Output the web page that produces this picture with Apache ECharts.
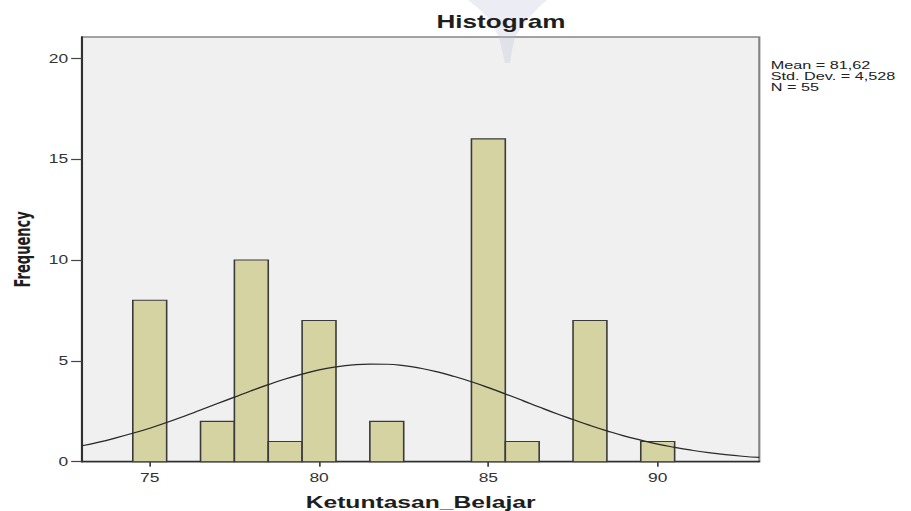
<!DOCTYPE html>
<html>
<head>
<meta charset="utf-8">
<script src="https://cdn.jsdelivr.net/npm/echarts@6/dist/echarts.min.js"></script>
<style>
  html, body { margin: 0; padding: 0; background: #fff; overflow: hidden; }
  /* the source picture is stretched sideways, so the chart is drawn narrow and widened */
  #main { width: 628px; height: 511px; transform: scaleX(1.4506); transform-origin: 0 0; }
</style>
</head>
<body>
<div id="main"></div>
<script>
// histogram bins (width 1, centred on the value)
var binCenters = [75, 77, 78, 79, 80, 82, 85, 86, 88, 90];
var frequencies = [8, 2, 10, 1, 7, 2, 16, 1, 7, 1];

// normal curve
var curveX = [73, 73.5, 74, 74.5, 75, 75.5, 76, 76.5, 77, 77.5, 78, 78.5, 79, 79.5, 80, 80.5,
  81, 81.5, 82, 82.5, 83, 83.5, 84, 84.5, 85, 85.5, 86, 86.5, 87, 87.5, 88, 88.5,
  89, 89.5, 90, 90.5, 91, 91.5, 92, 92.5, 93];
var curveY = [0.79, 0.97, 1.18, 1.41, 1.66, 1.94, 2.24, 2.56, 2.88, 3.20, 3.52, 3.82, 4.10, 4.34, 4.55, 4.70,
  4.80, 4.84, 4.83, 4.76, 4.63, 4.45, 4.22, 3.96, 3.67, 3.36, 3.04, 2.71, 2.39, 2.09, 1.80, 1.53,
  1.28, 1.07, 0.87, 0.71, 0.57, 0.45, 0.35, 0.27, 0.21];

var xTicks = [75, 80, 85, 90];
var yTicks = [0, 5, 10, 15, 20];
var statsLines = ["Mean = 81,62", "Std. Dev. = 4,528", "N = 55"];

var FONT = '"Liberation Sans", Arial, sans-serif';
var S = 1.4506; // horizontal stretch

var chartDom = document.getElementById("main");
var myChart = echarts.init(chartDom, null, { renderer: "svg" });
var option;

var barData = [];
for (var i = 0; i < binCenters.length; i++) {
  barData.push([binCenters[i], frequencies[i]]);
}
var curveData = [];
for (var j = 0; j < curveX.length; j++) {
  curveData.push([curveX[j], curveY[j]]);
}

function px(x) { return x / S; }

// stats block, one text per line so the lines sit tight like the original
var statsGraphics = statsLines.map(function (line, k) {
  return {
    type: "text",
    left: px(770.7),
    top: 59 + k * 11.4,
    z: 10,
    style: {
      text: line,
      font: '11.2px "Liberation Sans", Arial, sans-serif',
      fill: "#222"
    }
  };
});

option = {
  backgroundColor: "#ffffff",
  animation: false,
  title: {
    text: "Histogram",
    left: px(501),
    top: 13,
    textAlign: "center",
    padding: 0,
    textStyle: { fontFamily: FONT, fontSize: 18, fontWeight: "bold", color: "#1e1e1e" }
  },
  grid: {
    left: px(82),
    right: 628 - px(759.3),
    top: 37,
    bottom: 511 - 461.7,
    containLabel: false,
    outerBoundsMode: "none",
    show: true,
    backgroundColor: "#f0f0f0",
    borderColor: "#858585",
    borderWidth: 1.5
  },
  xAxis: {
    type: "value",
    min: 73,
    max: 93,
    splitLine: { show: false },
    axisLine: { show: true, onZero: false, lineStyle: { color: "#2f2f2f", width: 1.3 } },
    axisTick: { show: true, length: 5, customValues: xTicks, lineStyle: { color: "#444", width: 1.2 } },
    axisLabel: { customValues: xTicks, margin: 10, fontFamily: FONT, fontSize: 12, color: "#333" },
    name: "Ketuntasan_Belajar",
    nameLocation: "middle",
    nameGap: 32,
    nameTextStyle: { fontFamily: FONT, fontSize: 17, fontWeight: "bold", color: "#1e1e1e" }
  },
  yAxis: {
    type: "value",
    min: 0,
    max: 21.05,
    splitLine: { show: false },
    axisLine: { show: true, lineStyle: { color: "#2f2f2f", width: 1.4 } },
    axisTick: { show: true, length: 7.5, customValues: yTicks, lineStyle: { color: "#444", width: 1.2 } },
    axisLabel: { customValues: yTicks, margin: 9.5, fontFamily: FONT, fontSize: 12, color: "#333" },
    name: "Frequency",
    nameLocation: "middle",
    nameGap: 33,
    nameTextStyle: {
      fontFamily: '"Liberation Sans Narrow", "Arial Narrow", "DejaVu Sans Condensed", sans-serif',
      fontSize: 14.5, fontWeight: "bold", color: "#1e1e1e"
    }
  },
  graphic: [
    {
      type: "polygon",
      z: 1,
      silent: true,
      shape: {
        points: [
          [px(468), 0], [px(547), 0], [px(538), 8], [px(527), 20], [px(515), 37], [px(512), 50],
          [px(510), 63], [px(505), 63], [px(502), 50], [px(499), 37], [px(490), 20], [px(478), 8]
        ]
      },
      style: { fill: "rgba(185,185,215,0.28)" }
    }
  ].concat(statsGraphics),
  series: [
    {
      name: "Frequency",
      type: "custom",
      data: barData,
      encode: { x: 0, y: 1 },
      z: 2,
      renderItem: function (params, api) {
        var x = api.value(0);
        var y = api.value(1);
        var p0 = api.coord([x - 0.5, y]);
        var p1 = api.coord([x + 0.5, 0]);
        return {
          type: "rect",
          shape: { x: p0[0], y: p0[1], width: p1[0] - p0[0], height: p1[1] - p0[1] },
          style: { fill: "#d6d3a2", stroke: "#3a3a3a", lineWidth: 1.1 }
        };
      }
    },
    {
      name: "Normal",
      type: "line",
      data: curveData,
      smooth: true,
      showSymbol: false,
      symbol: "none",
      z: 3,
      lineStyle: { color: "#2a2a2a", width: 1.2 }
    }
  ]
};

option && myChart.setOption(option);
</script>
</body>
</html>
